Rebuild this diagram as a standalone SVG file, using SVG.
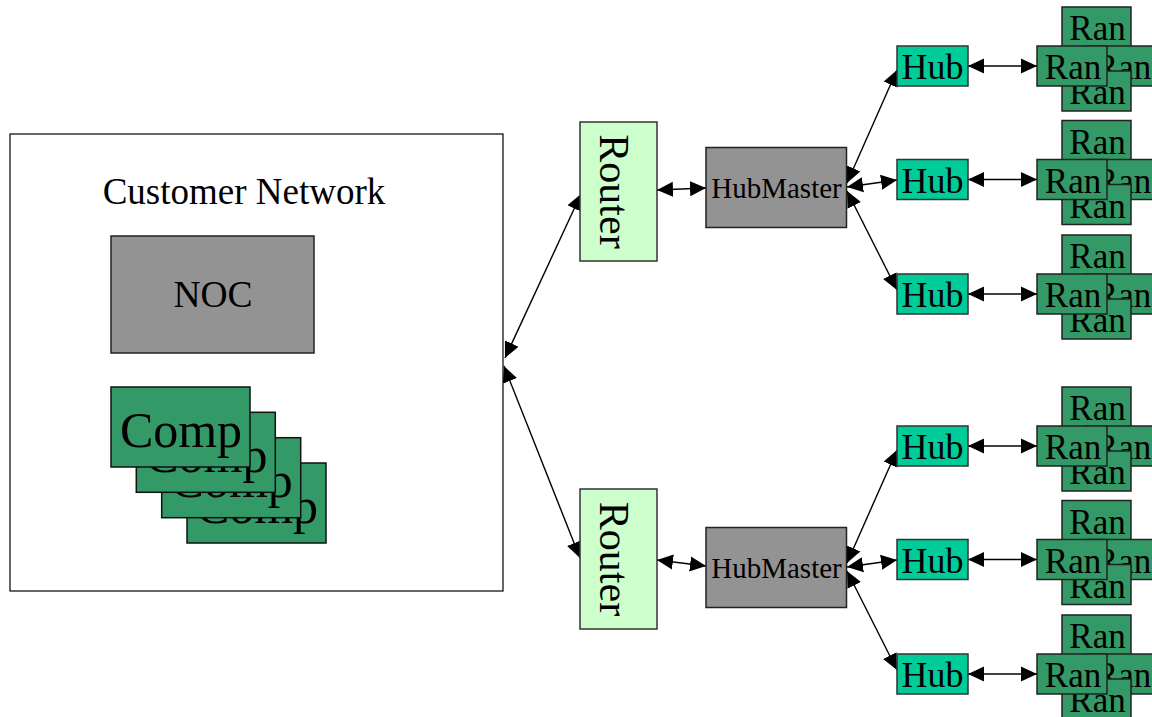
<svg xmlns="http://www.w3.org/2000/svg" width="1152" height="717" viewBox="0 0 1152 717">
  <defs>
    <style>
      text { font-family: "Liberation Serif", "Times New Roman", serif; fill: #000; text-anchor: middle; }
      .frame { fill: #fff; stroke: #000; stroke-width: 1.2; }
      .gray { fill: #939393; stroke: #222; stroke-width: 1.5; }
      .router { fill: #ccffcc; stroke: #333; stroke-width: 1.5; }
      .hub { fill: #00cc99; stroke: #333; stroke-width: 1.5; }
      .ran { fill: #339966; stroke: #222; stroke-width: 1.5; }
      .comp { fill: #339966; stroke: #111; stroke-width: 1.5; }
      .link { fill: none; stroke: #000; stroke-width: 1.4; marker-start: url(#head); marker-end: url(#head); }
      .t-ran { font-size: 35px; }
      .t-hub { font-size: 36px; }
      .t-hm { font-size: 29px; }
      .t-router { font-size: 42px; }
      .t-comp { font-size: 50px; }
    </style>
    <marker id="head" viewBox="0 -8 16 16" refX="16" refY="0" markerWidth="16" markerHeight="16" markerUnits="userSpaceOnUse" orient="auto-start-reverse">
      <path d="M0,-7.5 L16,0 L0,7.5 z" fill="#000"/>
    </marker>
  </defs>

  <!-- customer side -->
  <g id="customer-network">
    <rect class="frame" x="10" y="134" width="493" height="457"/>
    <text x="244" y="204" style="font-size:37px">Customer Network</text>
  </g>
  <g id="noc">
    <rect class="gray" x="111" y="236" width="203" height="117"/>
    <text x="213" y="307" style="font-size:37.5px">NOC</text>
  </g>
  <g id="comp-stack">
    <rect class="comp" x="187" y="463" width="139" height="80"/>
    <text class="t-comp" x="257" y="523">Comp</text>
    <rect class="comp" x="161.7" y="437.7" width="139" height="80"/>
    <text class="t-comp" x="231.7" y="497.4">Comp</text>
    <rect class="comp" x="136.3" y="412.3" width="139" height="80"/>
    <text class="t-comp" x="206.3" y="472">Comp</text>
    <rect class="comp" x="111" y="387" width="139" height="80"/>
    <text class="t-comp" x="181" y="446.7">Comp</text>
  </g>

  <!-- connectors -->
  <g id="connectors">
    <line class="link" x1="505" y1="358" x2="581" y2="194"/>
    <line class="link" x1="504" y1="366" x2="580" y2="558"/>
    <line class="link" x1="657" y1="190" x2="706" y2="188"/>
    <line class="link" x1="657" y1="560" x2="706" y2="566"/>

    <line class="link" x1="847" y1="183" x2="897" y2="70"/>
    <line class="link" x1="847" y1="187" x2="897" y2="180"/>
    <line class="link" x1="847" y1="191" x2="897" y2="290"/>
    <line class="link" x1="847" y1="563" x2="897" y2="450"/>
    <line class="link" x1="847" y1="567" x2="897" y2="560"/>
    <line class="link" x1="847" y1="571" x2="897" y2="670"/>

    <line class="link" x1="968" y1="66" x2="1037" y2="66"/>
    <line class="link" x1="968" y1="179.5" x2="1037" y2="179.5"/>
    <line class="link" x1="968" y1="294" x2="1037" y2="294"/>
    <line class="link" x1="968" y1="446" x2="1037" y2="446"/>
    <line class="link" x1="968" y1="559.5" x2="1037" y2="559.5"/>
    <line class="link" x1="968" y1="674" x2="1037" y2="674"/>
  </g>

  <!-- routers -->
  <g id="router-1">
    <rect class="router" x="580" y="122" width="77" height="139"/>
    <text class="t-router" transform="translate(600 191.5) rotate(90)" x="0" y="0">Router</text>
  </g>
  <g id="router-2">
    <rect class="router" x="580" y="489" width="77" height="140"/>
    <text class="t-router" transform="translate(600 559) rotate(90)" x="0" y="0">Router</text>
  </g>

  <!-- hub masters -->
  <g id="hubmaster-1">
    <rect class="gray" x="706" y="147.5" width="140.5" height="80"/>
    <text class="t-hm" x="776.5" y="198">HubMaster</text>
  </g>
  <g id="hubmaster-2">
    <rect class="gray" x="706" y="527.5" width="140.5" height="80"/>
    <text class="t-hm" x="776.5" y="578">HubMaster</text>
  </g>

  <!-- hubs -->
  <g id="hub-1"><rect class="hub" x="897" y="46" width="71" height="40"/><text class="t-hub" x="932.5" y="79">Hub</text></g>
  <g id="hub-2"><rect class="hub" x="897" y="159.5" width="71" height="40"/><text class="t-hub" x="932.5" y="192.5">Hub</text></g>
  <g id="hub-3"><rect class="hub" x="897" y="274" width="71" height="40"/><text class="t-hub" x="932.5" y="307">Hub</text></g>
  <g id="hub-4"><rect class="hub" x="897" y="426" width="71" height="40"/><text class="t-hub" x="932.5" y="459">Hub</text></g>
  <g id="hub-5"><rect class="hub" x="897" y="539.5" width="71" height="40"/><text class="t-hub" x="932.5" y="572.5">Hub</text></g>
  <g id="hub-6"><rect class="hub" x="897" y="654" width="71" height="40"/><text class="t-hub" x="932.5" y="687">Hub</text></g>

  <!-- ran clusters: top, right, bottom, then front-left -->
  <g id="ran-cluster-1">
    <rect class="ran" x="1062" y="7" width="69" height="40"/><text class="t-ran" x="1097.5" y="40">Ran</text>
    <rect class="ran" x="1087" y="46" width="70" height="40"/><text class="t-ran" x="1123" y="79">Ran</text>
    <rect class="ran" x="1062" y="71" width="69" height="40"/><text class="t-ran" x="1097.5" y="104">Ran</text>
    <rect class="ran" x="1037" y="46" width="70" height="40"/><text class="t-ran" x="1073" y="79">Ran</text>
  </g>
  <g id="ran-cluster-2">
    <rect class="ran" x="1062" y="120.5" width="69" height="40"/><text class="t-ran" x="1097.5" y="153.5">Ran</text>
    <rect class="ran" x="1087" y="159.5" width="70" height="40"/><text class="t-ran" x="1123" y="192.5">Ran</text>
    <rect class="ran" x="1062" y="184.5" width="69" height="40"/><text class="t-ran" x="1097.5" y="217.5">Ran</text>
    <rect class="ran" x="1037" y="159.5" width="70" height="40"/><text class="t-ran" x="1073" y="192.5">Ran</text>
  </g>
  <g id="ran-cluster-3">
    <rect class="ran" x="1062" y="235" width="69" height="40"/><text class="t-ran" x="1097.5" y="268">Ran</text>
    <rect class="ran" x="1087" y="274" width="70" height="40"/><text class="t-ran" x="1123" y="307">Ran</text>
    <rect class="ran" x="1062" y="299" width="69" height="40"/><text class="t-ran" x="1097.5" y="332">Ran</text>
    <rect class="ran" x="1037" y="274" width="70" height="40"/><text class="t-ran" x="1073" y="307">Ran</text>
  </g>
  <g id="ran-cluster-4">
    <rect class="ran" x="1062" y="387" width="69" height="40"/><text class="t-ran" x="1097.5" y="420">Ran</text>
    <rect class="ran" x="1087" y="426" width="70" height="40"/><text class="t-ran" x="1123" y="459">Ran</text>
    <rect class="ran" x="1062" y="451" width="69" height="40"/><text class="t-ran" x="1097.5" y="484">Ran</text>
    <rect class="ran" x="1037" y="426" width="70" height="40"/><text class="t-ran" x="1073" y="459">Ran</text>
  </g>
  <g id="ran-cluster-5">
    <rect class="ran" x="1062" y="500.5" width="69" height="40"/><text class="t-ran" x="1097.5" y="533.5">Ran</text>
    <rect class="ran" x="1087" y="539.5" width="70" height="40"/><text class="t-ran" x="1123" y="572.5">Ran</text>
    <rect class="ran" x="1062" y="564.5" width="69" height="40"/><text class="t-ran" x="1097.5" y="597.5">Ran</text>
    <rect class="ran" x="1037" y="539.5" width="70" height="40"/><text class="t-ran" x="1073" y="572.5">Ran</text>
  </g>
  <g id="ran-cluster-6">
    <rect class="ran" x="1062" y="615" width="69" height="40"/><text class="t-ran" x="1097.5" y="648">Ran</text>
    <rect class="ran" x="1087" y="654" width="70" height="40"/><text class="t-ran" x="1123" y="687">Ran</text>
    <rect class="ran" x="1062" y="679" width="69" height="40"/><text class="t-ran" x="1097.5" y="712">Ran</text>
    <rect class="ran" x="1037" y="654" width="70" height="40"/><text class="t-ran" x="1073" y="687">Ran</text>
  </g>
</svg>
